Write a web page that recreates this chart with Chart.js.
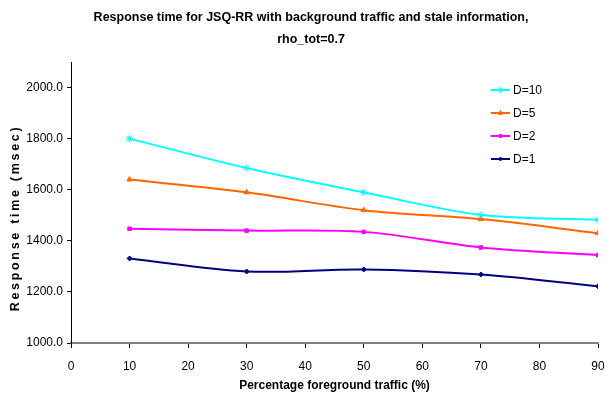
<!DOCTYPE html>
<html>
<head>
<meta charset="utf-8">
<script src="https://cdn.jsdelivr.net/npm/chart.js@4/dist/chart.umd.min.js"></script>
<style>
  html, body { margin: 0; padding: 0; background: #fff; }
  #wrap { width: 605px; height: 400px; }
</style>
</head>
<body>
<div id="wrap"><canvas id="c" width="605" height="400"></canvas></div>
<script>
// Percentage of foreground traffic (x values)
const foreground = [10, 30, 50, 70, 90];

// Mean response time (msec) per staleness level D
const seriesD10 = [1800, 1685, 1590, 1502, 1482];
const seriesD5  = [1640, 1590, 1520, 1485, 1430];
const seriesD2  = [1447, 1440, 1435, 1374, 1344];
const seriesD1  = [1331, 1280, 1288, 1268, 1222];

const seriesNames = ['D=10', 'D=5', 'D=2', 'D=1'];
const xTicks = [0, 10, 20, 30, 40, 50, 60, 70, 80, 90];
const yTicks = [1000, 1200, 1400, 1600, 1800, 2000];
const titleLines = ['Response time for JSQ-RR with background traffic and stale information,', 'rho_tot=0.7'];
const yAxisTitle = 'Response time (msec)';

const NARROW = '"Liberation Sans Narrow", "Liberation Sans", Arial, sans-serif';
const WIDE = '"Liberation Sans", Arial, sans-serif';

const toPoints = vals => vals.map((v, i) => ({ x: foreground[i], y: v }));

const styles = [
  { color: '#00FFFF', point: 'star',     r: 3.5 },
  { color: '#FF6600', point: 'triangle', r: 3 },
  { color: '#FF00FF', point: 'rect',     r: 2.5 },
  { color: '#000080', point: 'rectRot',  r: 2.5 }
];
const values = [seriesD10, seriesD5, seriesD2, seriesD1];

const datasets = values.map((vals, i) => ({
  label: seriesNames[i],
  data: toPoints(vals),
  borderColor: styles[i].color,
  backgroundColor: styles[i].color,
  borderWidth: 2,
  pointStyle: styles[i].point,
  pointRadius: styles[i].r,
  pointBorderWidth: 1,
  tension: 0.35,
  fill: false
}));

// Legend drawn inside the plot area, top right
const insideLegend = {
  id: 'insideLegend',
  afterDatasetsDraw(chart) {
    const ctx = chart.ctx;
    ctx.save();
    chart.data.datasets.forEach((ds, i) => {
      const y = 90 + i * 23;
      ctx.strokeStyle = ds.borderColor;
      ctx.lineWidth = 2;
      ctx.beginPath();
      ctx.moveTo(491, y);
      ctx.lineTo(510, y);
      ctx.stroke();
      ctx.lineWidth = 1;
      ctx.fillStyle = ds.borderColor;
      ctx.strokeStyle = ds.borderColor;
      Chart.helpers.drawPoint(ctx, {
        pointStyle: ds.pointStyle, radius: ds.pointRadius - 0.5, rotation: 0,
        borderWidth: 1
      }, 500.5, y);
      ctx.fillStyle = '#000';
      ctx.font = '12px ' + NARROW;
      ctx.textAlign = 'left';
      ctx.textBaseline = 'middle';
      ctx.fillText(ds.label, 513, y + 1);
    });
    ctx.restore();
  }
};

// Two-line heading and spaced-out vertical axis title
const headings = {
  id: 'headings',
  afterDraw(chart) {
    const ctx = chart.ctx;
    ctx.save();
    ctx.fillStyle = '#000';
    ctx.textAlign = 'center';
    ctx.textBaseline = 'middle';
    ctx.font = 'bold 12.5px ' + NARROW;
    ctx.fillText(titleLines[0], 311, 18);
    ctx.fillText(titleLines[1], 311, 40);

    ctx.translate(16, 218);
    ctx.rotate(-Math.PI / 2);
    ctx.font = 'bold 12.5px ' + WIDE;
    const plain = ctx.measureText(yAxisTitle).width;
    const spacing = Math.max(0, (184 - plain) / (yAxisTitle.length - 1));
    if ('letterSpacing' in ctx) ctx.letterSpacing = spacing.toFixed(2) + 'px';
    ctx.fillText(yAxisTitle, 0, 0);
    ctx.restore();
  }
};

new Chart(document.getElementById('c'), {
  type: 'line',
  data: { datasets },
  plugins: [insideLegend, headings],
  options: {
    responsive: false,
    animation: false,
    layout: { padding: { left: 0, right: 7, top: 62, bottom: 0 } },
    plugins: {
      legend: { display: false },
      tooltip: { enabled: false },
      title: { display: false }
    },
    scales: {
      x: {
        type: 'linear',
        min: 0,
        max: 90,
        afterBuildTicks(scale) { scale.ticks = xTicks.map(v => ({ value: v })); },
        afterFit(scale) {
          scale.height = 57;
          scale.paddingLeft = 0;
          scale.paddingRight = 0;
        },
        ticks: {
          color: '#000',
          font: { family: NARROW, size: 12 },
          padding: 11,
          maxRotation: 0,
          autoSkip: false
        },
        grid: { drawOnChartArea: false, drawTicks: true, tickLength: 5, color: '#000' },
        border: { display: true, color: '#808080', width: 2 },
        title: {
          display: true,
          text: 'Percentage foreground traffic (%)',
          color: '#000',
          font: { family: NARROW, size: 12, weight: 'bold' },
          padding: { top: 0, bottom: 7 }
        }
      },
      y: {
        type: 'linear',
        min: 1000,
        max: 2100,
        afterBuildTicks(scale) { scale.ticks = yTicks.map(v => ({ value: v })); },
        afterFit(scale) {
          scale.width = 71;
          scale.paddingTop = 0;
          scale.paddingBottom = 0;
        },
        ticks: {
          color: '#000',
          font: { family: NARROW, size: 12 },
          padding: 4,
          callback: v => Number(v).toFixed(1)
        },
        grid: { drawOnChartArea: false, drawTicks: true, tickLength: 4, color: '#000' },
        border: { display: true, color: '#000', width: 1 }
      }
    }
  }
});
</script>
</body>
</html>
